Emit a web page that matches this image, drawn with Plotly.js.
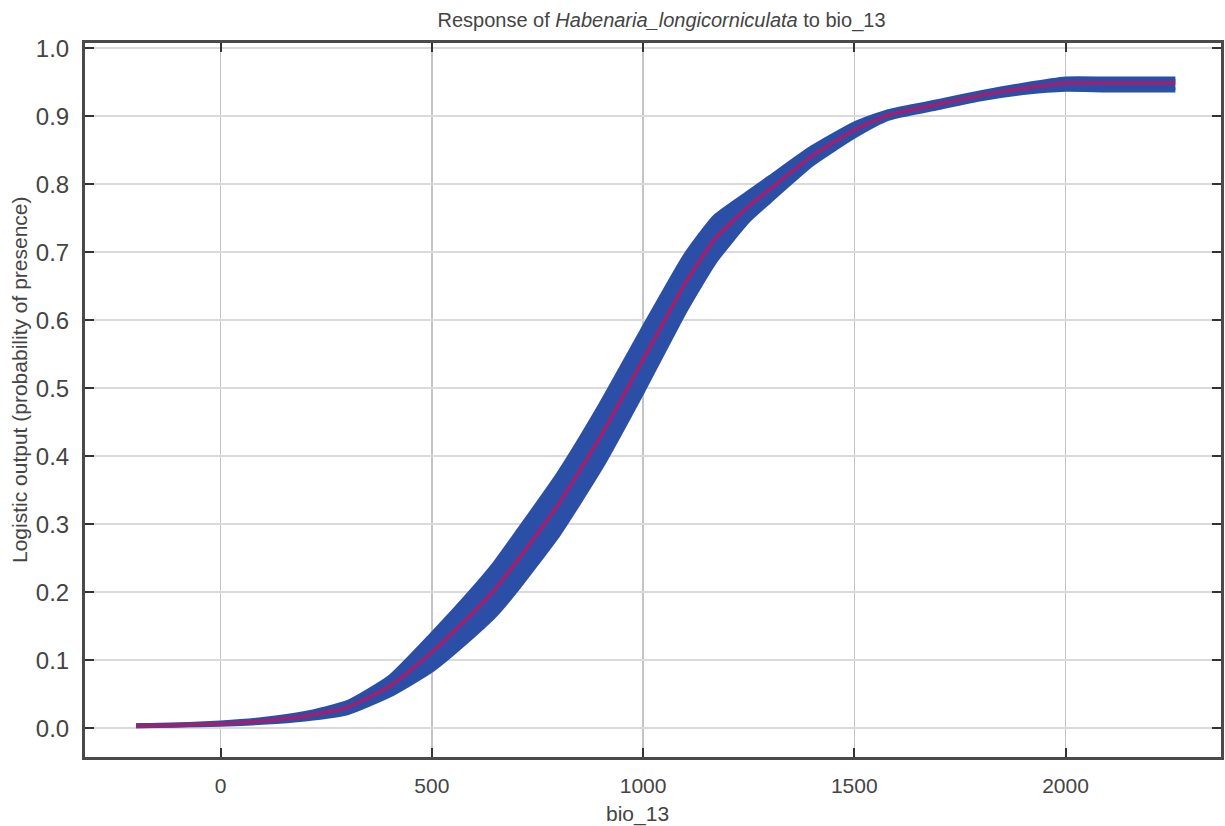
<!DOCTYPE html>
<html>
<head>
<meta charset="utf-8">
<script src="https://cdn.plot.ly/plotly-3.0.1.min.js"></script>
<style>
  html, body { margin: 0; padding: 0; background: #fff; }
  #chart { width: 1225px; height: 826px; }
</style>
</head>
<body>
<div id="chart"></div>
<script>
// bio_13 values along the response curve
const bio13 = [-200, -100, 0, 100, 200, 300, 400, 500, 600, 650, 700, 800, 900, 1000, 1100, 1170, 1250, 1300, 1400, 1500, 1580, 1700, 1800, 1900, 2000, 2100, 2260];
// mean logistic output
const meanResp = [0.004, 0.005, 0.007, 0.011, 0.018, 0.031, 0.062, 0.112, 0.172, 0.205, 0.245, 0.330, 0.430, 0.542, 0.655, 0.720, 0.768, 0.793, 0.842, 0.880, 0.902, 0.918, 0.931, 0.941, 0.949, 0.949, 0.949];
// mean + one standard deviation
const upperResp = [0.004, 0.005, 0.008, 0.013, 0.022, 0.038, 0.075, 0.138, 0.206, 0.243, 0.286, 0.374, 0.476, 0.587, 0.695, 0.752, 0.788, 0.810, 0.854, 0.889, 0.907, 0.922, 0.935, 0.946, 0.955, 0.955, 0.955];
// mean - one standard deviation
const lowerResp = [0.004, 0.005, 0.006, 0.009, 0.014, 0.023, 0.049, 0.086, 0.138, 0.167, 0.204, 0.286, 0.384, 0.497, 0.615, 0.687, 0.748, 0.776, 0.830, 0.871, 0.897, 0.913, 0.926, 0.935, 0.940, 0.939, 0.939];

const xTicks = [0, 500, 1000, 1500, 2000];
const yTicks = [0, 0.1, 0.2, 0.3, 0.4, 0.5, 0.6, 0.7, 0.8, 0.9, 1.0];
const yTickText = ['0.0', '0.1', '0.2', '0.3', '0.4', '0.5', '0.6', '0.7', '0.8', '0.9', '1.0'];

const blue = '#2b4fa6';
const red = 'rgb(165,30,110)';
const fontFam = '"Liberation Sans", Arial, Helvetica, sans-serif';

const traces = [
  { x: bio13, y: lowerResp, type: 'scatter', mode: 'lines',
    line: { color: blue, width: 5, shape: 'spline', smoothing: 0.5 }, hoverinfo: 'skip', showlegend: false },
  { x: bio13, y: upperResp, type: 'scatter', mode: 'lines', fill: 'tonexty',
    fillcolor: blue, line: { color: blue, width: 5, shape: 'spline', smoothing: 0.5 }, hoverinfo: 'skip', showlegend: false },
  { x: bio13, y: meanResp, type: 'scatter', mode: 'lines',
    line: { color: red, width: 3.5, shape: 'spline', smoothing: 0.5 }, showlegend: false }
];

const axisCommon = {
  showline: true, linecolor: '#4a4a4a', linewidth: 3, mirror: 'ticks',
  ticks: 'inside', ticklen: 9, tickwidth: 2, tickcolor: '#333',
  zeroline: false, showgrid: true
};

const layout = {
  width: 1225, height: 826,
  paper_bgcolor: '#fff', plot_bgcolor: '#fff',
  margin: { l: 85, r: 4, t: 43, b: 69, pad: 0 },
  font: { family: fontFam, color: '#444' },
  title: {
    text: 'Response of <i>Habenaria_longicorniculata</i> to bio_13',
    font: { family: fontFam, size: 20, color: '#444' },
    xref: 'paper', x: 0.5075, xanchor: 'center',
    yref: 'container', y: 1 - 20 / 826, yanchor: 'middle'
  },
  xaxis: Object.assign({}, axisCommon, {
    range: [-321, 2368],
    tickvals: xTicks, ticktext: xTicks.map(String),
    tickfont: { family: fontFam, size: 21, color: '#444' },
    gridcolor: '#c4c4c4', gridwidth: 1.5,
    ticklabelstandoff: 8
  }),
  yaxis: Object.assign({}, axisCommon, {
    range: [-0.042, 1.008],
    tickvals: yTicks, ticktext: yTickText,
    tickfont: { family: fontFam, size: 24, color: '#444' },
    gridcolor: '#dadada', gridwidth: 2,
    ticklabelstandoff: 8
  }),
  annotations: [
    { text: 'bio_13', xref: 'paper', yref: 'paper',
      x: (637 - 85) / 1136, y: -(814 - 757) / 714,
      xanchor: 'center', yanchor: 'middle', showarrow: false,
      font: { family: fontFam, size: 21, color: '#444' } },
    { text: 'Logistic output (probability of presence)', xref: 'paper', yref: 'paper',
      x: (19 - 85) / 1136, y: (757 - 380) / 714, textangle: -90,
      xanchor: 'center', yanchor: 'middle', showarrow: false,
      font: { family: fontFam, size: 21, color: '#444' } }
  ]
};

Plotly.newPlot('chart', traces, layout, { staticPlot: true, displayModeBar: false });
</script>
</body>
</html>
